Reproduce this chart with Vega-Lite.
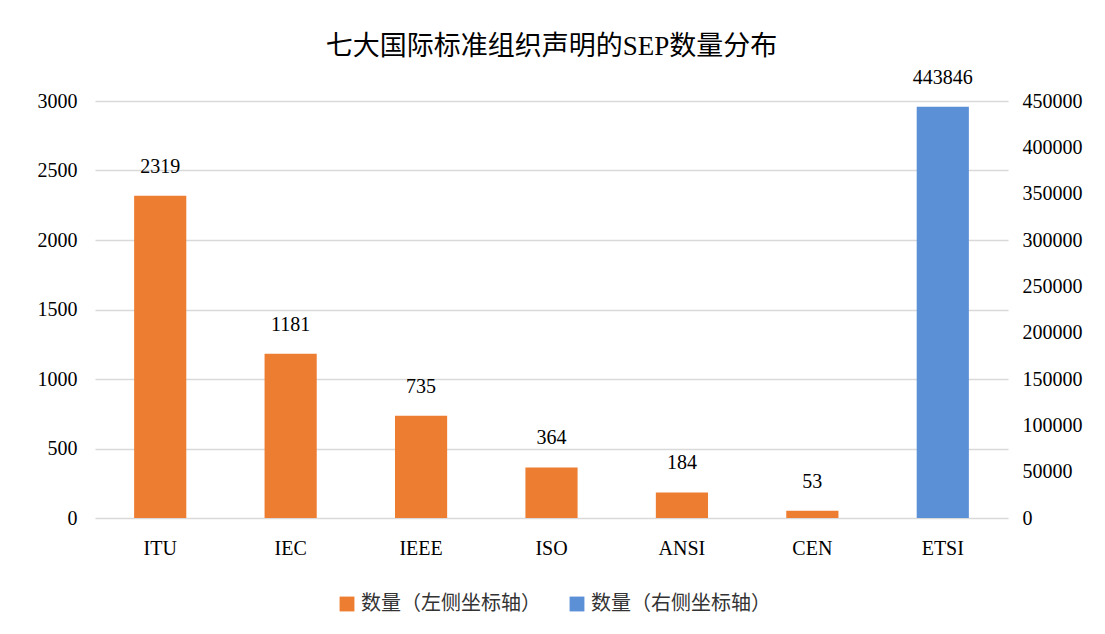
{
  "$schema": "https://vega.github.io/schema/vega-lite/v6.json",
  "width": 913,
  "height": 417,
  "autosize": {"type": "none"},
  "padding": {"left": 95, "top": 101, "right": 97, "bottom": 116},
  "background": "white",
  "config": {
    "font": "Liberation Serif, Noto Sans CJK SC",
    "view": {"stroke": null},
    "axis": {"labelFont": "Liberation Serif, Noto Sans CJK SC", "labelFontSize": 20, "labelColor": "#000000", "domain": false, "ticks": false, "title": null}
  },
  "title": {
    "text": "七大国际标准组织声明的SEP数量分布",
    "font": "Liberation Serif, Noto Sans CJK SC",
    "fontSize": 27,
    "fontWeight": "normal",
    "color": "#000000",
    "offset": 7
  },
  "data": {
    "values": [
      {"org": "ITU", "value": 2319, "series": "数量（左侧坐标轴）"},
      {"org": "IEC", "value": 1181, "series": "数量（左侧坐标轴）"},
      {"org": "IEEE", "value": 735, "series": "数量（左侧坐标轴）"},
      {"org": "ISO", "value": 364, "series": "数量（左侧坐标轴）"},
      {"org": "ANSI", "value": 184, "series": "数量（左侧坐标轴）"},
      {"org": "CEN", "value": 53, "series": "数量（左侧坐标轴）"},
      {"org": "ETSI", "value": 443846, "series": "数量（右侧坐标轴）"}
    ]
  },
  "encoding": {
    "x": {
      "field": "org",
      "type": "nominal",
      "sort": ["ITU", "IEC", "IEEE", "ISO", "ANSI", "CEN", "ETSI"],
      "scale": {"paddingInner": 0.6, "paddingOuter": 0.3},
      "axis": {"labelAngle": 0, "labelPadding": 20, "grid": false}
    }
  },
  "layer": [
    {
      "transform": [{"filter": "datum.series === '数量（左侧坐标轴）'"}],
      "encoding": {
        "y": {
          "field": "value",
          "type": "quantitative",
          "scale": {"domain": [0, 3000], "nice": false},
          "axis": {"orient": "left", "values": [0, 500, 1000, 1500, 2000, 2500, 3000], "format": "d", "grid": true, "gridColor": "#d9d9d9", "gridWidth": 1.5, "labelPadding": 18}
        }
      },
      "layer": [
        {
          "mark": {"type": "bar"},
          "encoding": {
            "color": {
              "field": "series",
              "type": "nominal",
              "scale": {"domain": ["数量（左侧坐标轴）", "数量（右侧坐标轴）"], "range": ["#ED7D31", "#5B8FD6"]},
              "legend": {"orient": "none", "legendX": 242, "legendY": 493, "direction": "horizontal", "title": null, "symbolType": "square", "symbolSize": 220, "labelFontSize": 20, "labelFont": "Noto Sans CJK SC", "labelColor": "#333333", "labelLimit": 0, "columnPadding": 26}
            }
          }
        },
        {
          "mark": {"type": "text", "dy": -19, "baseline": "bottom", "fontSize": 20, "font": "Liberation Serif", "color": "#000000"},
          "encoding": {"text": {"field": "value", "type": "quantitative", "format": "d"}}
        }
      ]
    },
    {
      "transform": [{"filter": "datum.series === '数量（右侧坐标轴）'"}],
      "encoding": {
        "y": {
          "field": "value",
          "type": "quantitative",
          "scale": {"domain": [0, 450000], "nice": false},
          "axis": {"orient": "right", "values": [0, 50000, 100000, 150000, 200000, 250000, 300000, 350000, 400000, 450000], "grid": false, "labelPadding": 14, "format": "d"}
        }
      },
      "layer": [
        {
          "mark": {"type": "bar"},
          "encoding": {
            "color": {"field": "series", "type": "nominal"}
          }
        },
        {
          "mark": {"type": "text", "dy": -19, "baseline": "bottom", "fontSize": 20, "font": "Liberation Serif", "color": "#000000"},
          "encoding": {"text": {"field": "value", "type": "quantitative", "format": "d"}}
        }
      ]
    }
  ],
  "resolve": {"scale": {"y": "independent"}, "axis": {"y": "independent"}}
}
